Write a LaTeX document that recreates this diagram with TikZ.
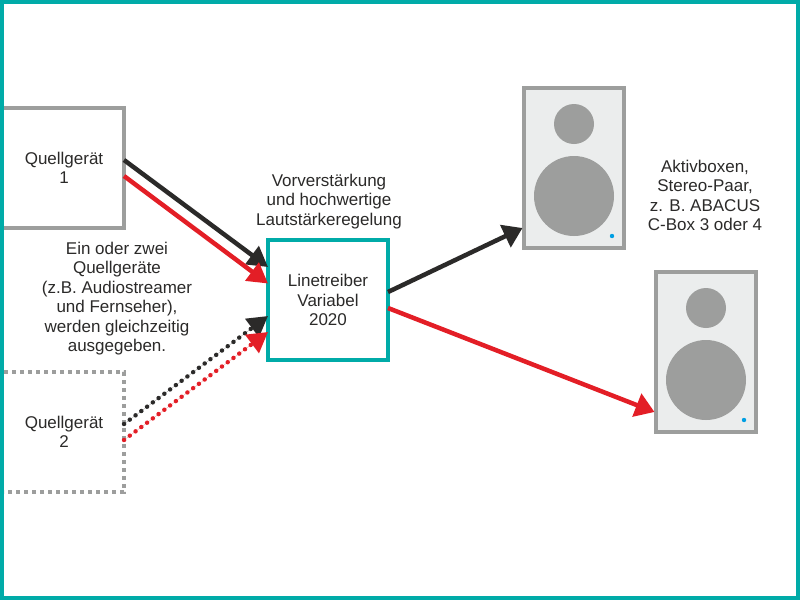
\documentclass[tikz,border=0pt]{standalone}
\usepackage{fontspec}
\setmainfont{Liberation Sans}
\usetikzlibrary{arrows.meta,calc}
\definecolor{teal1}{HTML}{00ABA8}
\definecolor{grey1}{HTML}{9D9E9D}
\definecolor{pale1}{HTML}{EBEDED}
\definecolor{ink1}{HTML}{2B2A29}
\definecolor{red1}{HTML}{E31E26}
\definecolor{dot1}{HTML}{009FE3}
\tikzset{
  every node/.style={outer sep=0pt,inner sep=0pt},
  label1/.style={align=center,text=ink1,font=\fontsize{17}{19.4}\selectfont},
  srcbox/.style={label1,minimum height=120pt,minimum width=120pt},
  srcline/.style={draw=grey1,line width=4pt},
  srcdash/.style={draw=grey1,line width=4pt,dash pattern=on 4pt off 4pt},
  linebox/.style={draw=teal1,line width=4pt,minimum width=120pt,minimum height=120pt},
  cabinet/.style={draw=grey1,fill=pale1,line width=4pt,minimum width=100pt,minimum height=160pt},
  driver/.style={circle,fill=grey1},
  led/.style={circle,fill=dot1,minimum size=4.4pt},
  wirein/.style={line width=4.5pt,-{Triangle[length=20pt,width=22pt]}},
  wireout/.style={line width=4.5pt,-{Triangle[length=19pt,width=24pt]}},
  dotwire/.style={line width=4.4pt,line cap=round,dash pattern=on 0.1pt off 7.1pt,-{Triangle[length=20pt,width=22pt]}},
}
\begin{document}
\begin{tikzpicture}[x=1pt,y=-1pt]
\useasboundingbox (0,0) rectangle (800,600);
\fill[white] (0,0) rectangle (800,600);
% source boxes
\node[srcbox] (q1) at (64,168) {Quellgerät\\1};
\node[srcbox] (q2) at (64,432) {Quellgerät\\2};
\draw[srcline] ($(q1.north west)+(-2,0)$) -- (q1.north east) -- (q1.south east) -- ($(q1.south west)+(-2,0)$);
\draw[srcdash] (q2.north west) -- (q2.north east) -- (q2.south east) -- (q2.south west);
% line driver
\node[linebox,label1] (lt) at (328,300) {Linetreiber\\Variabel\\2020};
% speakers
\node[cabinet] (s1) at (574,168) {};
\node[driver,minimum size=40pt] at ($(s1.center)+(0,-44)$) {};
\node[driver,minimum size=80pt] at ($(s1.center)+(0,28)$) {};
\node[led] at ($(s1.center)+(38,68)$) {};
\node[cabinet] (s2) at (706,352) {};
\node[driver,minimum size=40pt] at ($(s2.center)+(0,-44)$) {};
\node[driver,minimum size=80pt] at ($(s2.center)+(0,28)$) {};
\node[led] at ($(s2.center)+(38,68)$) {};
% labels
\node[label1] (t1) at (329,201.5) {Vorverstärkung\\und hochwertige\\Lautstärkeregelung};
\node[label1] (t2) at (117,298.5) {Ein oder zwei\\Quellgeräte\\(z.B. Audiostreamer\\und Fernseher),\\werden gleichzeitig\\ausgegeben.};
\node[label1] (t3) at (705,195.5) {Aktivboxen,\\Stereo-Paar,\\z. B. ABACUS\\C-Box 3 oder 4};
% connectors
\draw[wirein,draw=ink1,fill=ink1] ($(q1.north east)+(0,52)$) -- ($(lt.west)+(0,-33)$);
\draw[wirein,draw=red1,fill=red1] ($(q1.north east)+(0,68)$) -- ($(lt.west)+(0,-16.5)$);
\draw[dotwire,draw=ink1,fill=ink1] ($(q2.north east)+(0,52)$) -- ($(lt.west)+(0,16)$);
\draw[dotwire,draw=red1,fill=red1] ($(q2.north east)+(0,68)$) -- ($(lt.west)+(0,32)$);
\draw[wireout,draw=ink1,fill=ink1] ($(lt.east)+(0,-8)$) -- ($(s1.west)+(-1.5,60)$);
\draw[wireout,draw=red1,fill=red1] ($(lt.east)+(0,8)$) -- ($(s2.west)+(-1.5,60)$);
% frame
\draw[teal1,line width=4pt] (2,2) rectangle (798,598);
\end{tikzpicture}
\end{document}
